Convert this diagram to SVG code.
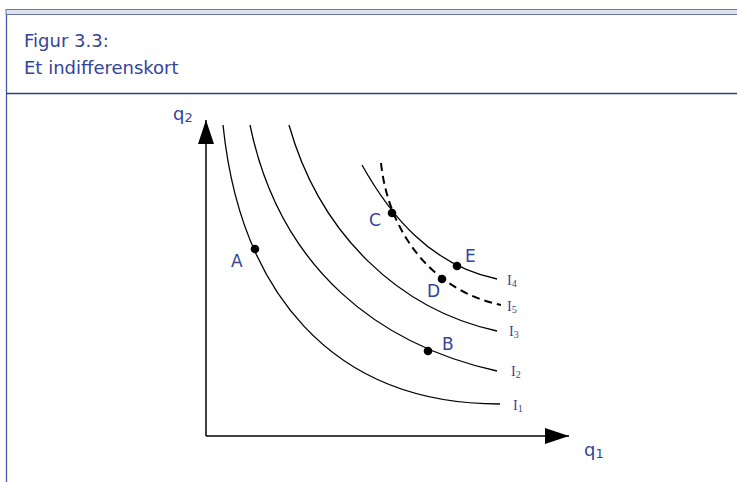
<svg xmlns="http://www.w3.org/2000/svg" width="737" height="482" viewBox="0 0 737 482">
<style>
.t{font-family:"DejaVu Sans",Verdana,sans-serif;fill:#33449a}
.title{font-size:18px}
.pt{font-size:17px}
.ax{font-size:18px}
.il{font-family:"Liberation Serif","Times New Roman",serif;font-size:14px;fill:#33449a}
.curve{fill:none;stroke:#000;stroke-width:1.3}
.dash{fill:none;stroke:#000;stroke-width:2;stroke-dasharray:8 5}
.axis{stroke:#000;stroke-width:1.5}
</style>
<defs>
<marker id="arr" viewBox="0 0 24 16" refX="24" refY="8" markerWidth="24" markerHeight="16" markerUnits="userSpaceOnUse" orient="auto">
<path d="M0,0 L24,8 L0,16 z" fill="#000"/>
</marker>
</defs>
<rect x="0" y="0" width="737" height="482" fill="#fff"/>
<g id="frame">
<rect x="6" y="9.5" width="740" height="5" fill="#dde0ee" stroke="#6c76b0" stroke-width="1"/>
<line x1="6.5" y1="15" x2="6.5" y2="482" stroke="#4a58aa" stroke-width="1.3"/>
<line x1="6" y1="93.5" x2="737" y2="93.5" stroke="#2e3d8a" stroke-width="1.3"/>
</g>
<g id="title">
<text class="t title" x="24" y="47">Figur 3.3:</text>
<text class="t title" x="24" y="74">Et indifferenskort</text>
</g>
<g id="axes">
<line class="axis" x1="206" y1="436" x2="206" y2="120" marker-end="url(#arr)"/>
<line class="axis" x1="206" y1="436" x2="569" y2="436" marker-end="url(#arr)"/>
<text class="t ax" x="173" y="120">q<tspan font-size="13" dy="2">2</tspan></text>
<text class="t ax" x="584" y="456">q<tspan font-size="13" dy="2">1</tspan></text>
</g>
<g id="connectors">
<path id="I1" class="curve" d="M223,125 C240,290 330,404 500,404"/>
<path id="I2" class="curve" d="M250,125 C280,270 380,345 497,371"/>
<path id="I3" class="curve" d="M289,125 C320,235 400,310 497,331"/>
<path id="I4" class="curve" d="M362,165 C390,215 430,265 497,279"/>
<path id="I5" class="dash" d="M381,163 C388,230 430,290 501,305"/>
</g>
<g id="curve-labels">
<text class="il" x="513" y="410">I<tspan font-size="10" dy="2">1</tspan></text>
<text class="il" x="511" y="376">I<tspan font-size="10" dy="2">2</tspan></text>
<text class="il" x="509" y="336">I<tspan font-size="10" dy="2">3</tspan></text>
<text class="il" x="507" y="285">I<tspan font-size="10" dy="2">4</tspan></text>
<text class="il" x="507" y="311">I<tspan font-size="10" dy="2">5</tspan></text>
</g>
<g id="pointA"><circle cx="255" cy="249" r="4.3"/><text class="t pt" x="231" y="267">A</text></g>
<g id="pointB"><circle cx="428" cy="351" r="4.3"/><text class="t pt" x="442" y="350">B</text></g>
<g id="pointC"><circle cx="392" cy="213" r="4.3"/><text class="t pt" x="369" y="226">C</text></g>
<g id="pointD"><circle cx="442" cy="279" r="4.3"/><text class="t pt" x="427" y="297">D</text></g>
<g id="pointE"><circle cx="457" cy="266" r="4.3"/><text class="t pt" x="465" y="262">E</text></g>
</svg>
